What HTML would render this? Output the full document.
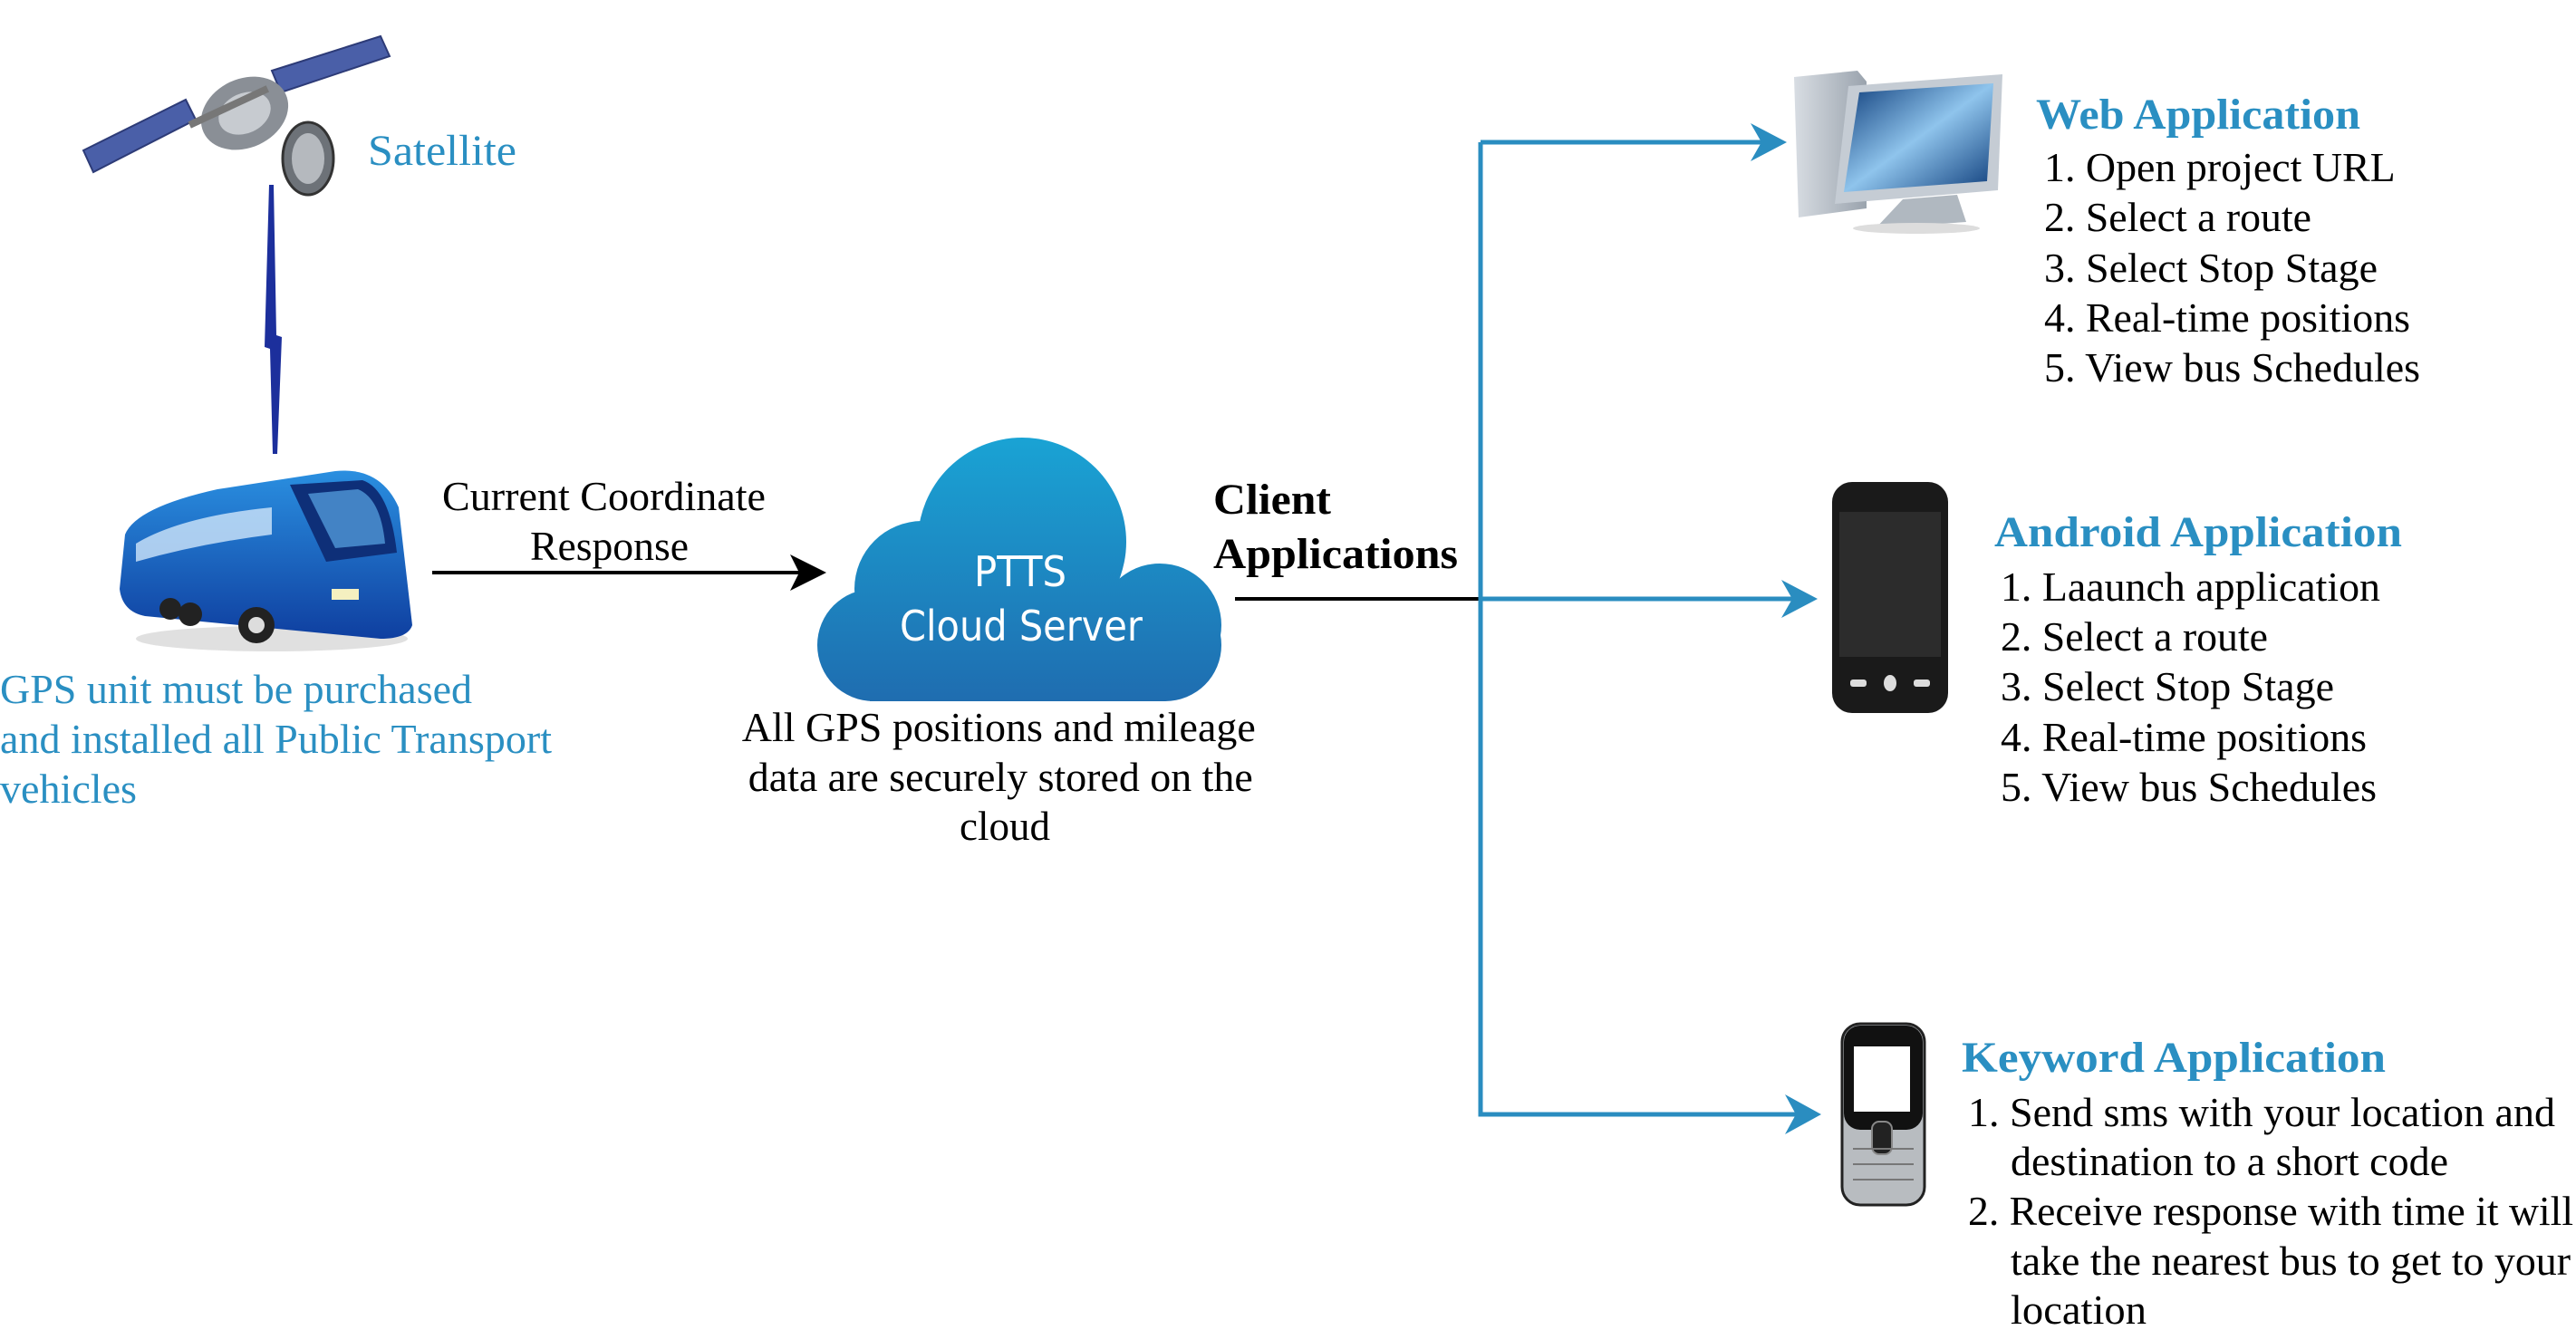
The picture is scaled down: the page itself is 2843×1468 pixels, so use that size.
<!DOCTYPE html>
<html><head><meta charset="utf-8"><style>
html,body{margin:0;padding:0;background:#fff;}
svg{display:block;}
.s{font-family:"Liberation Serif",serif;}
.b{font-family:"Liberation Serif",serif;font-weight:bold;}
</style></head><body>
<svg width="2843" height="1468" viewBox="0 0 2843 1468" xmlns="http://www.w3.org/2000/svg">
<defs>
<linearGradient id="cg" gradientUnits="userSpaceOnUse" x1="0" y1="483" x2="0" y2="774"><stop offset="0" stop-color="#1aa3d4"/><stop offset="1" stop-color="#1f6db0"/></linearGradient>
<linearGradient id="bus" x1="0" y1="0" x2="0" y2="1"><stop offset="0" stop-color="#2a8fe0"/><stop offset="1" stop-color="#0f3fa0"/></linearGradient>
<linearGradient id="scr" x1="0" y1="0" x2="1" y2="1"><stop offset="0" stop-color="#0d3c7a"/><stop offset="0.5" stop-color="#8fc4ec"/><stop offset="1" stop-color="#0d3c7a"/></linearGradient>
<linearGradient id="sil" x1="0" y1="0" x2="1" y2="0"><stop offset="0" stop-color="#d8dde3"/><stop offset="1" stop-color="#9aa3ad"/></linearGradient>
</defs>

<g>
<polygon points="92,166 205,110 216,132 103,190" fill="#4a5fa8" stroke="#2d3b77" stroke-width="2"/>
<polygon points="300,78 420,40 430,62 310,102" fill="#4a5fa8" stroke="#2d3b77" stroke-width="2"/>
<ellipse cx="270" cy="125" rx="50" ry="38" fill="#8a8f96" transform="rotate(-25 270 125)"/>
<ellipse cx="270" cy="125" rx="30" ry="22" fill="#c7cbd0" transform="rotate(-25 270 125)"/>
<ellipse cx="340" cy="175" rx="28" ry="40" fill="#6d7278" stroke="#333" stroke-width="3"/>
<ellipse cx="340" cy="175" rx="18" ry="28" fill="#b5b9be"/>
<rect x="205" y="115" width="95" height="8" fill="#777" transform="rotate(-25 250 119)"/>
</g>
<text class="s" x="406" y="182" font-size="48" fill="#2a8fc2" textLength="164" lengthAdjust="spacingAndGlyphs">Satellite</text>

<polygon points="297,204 302,204 305,370 311,372 306,501 301,501 298,385 292,383" fill="#1c2f9c"/>

<g>
<ellipse cx="300" cy="705" rx="150" ry="14" fill="#ccc" opacity="0.6"/>
<path d="M138,590 Q150,560 240,540 L370,520 Q420,515 440,560 L455,690 Q450,705 420,705 L160,680 Q135,675 132,650 Z" fill="url(#bus)"/>
<path d="M150,600 Q200,570 300,560 L300,590 Q220,600 150,620 Z" fill="#cfe6fa" opacity="0.8"/>
<path d="M320,535 L400,530 Q430,540 438,610 L360,620 Z" fill="#0e2f78"/>
<path d="M340,545 L395,540 Q420,550 425,600 L370,605 Z" fill="#5aa6e6" opacity="0.7"/>
<circle cx="188" cy="672" r="12" fill="#222"/><circle cx="210" cy="678" r="13" fill="#222"/>
<circle cx="283" cy="690" r="20" fill="#222"/><circle cx="283" cy="690" r="9" fill="#ddd"/>
<rect x="366" y="650" width="30" height="12" fill="#f5f0c0"/>
</g>
<text class="s" font-size="46" fill="#2a8fc2">
<tspan x="0" y="776" textLength="521" lengthAdjust="spacingAndGlyphs">GPS unit must be purchased</tspan>
<tspan x="0" y="831" textLength="609" lengthAdjust="spacingAndGlyphs">and installed all Public Transport</tspan>
<tspan x="0" y="886" textLength="151" lengthAdjust="spacingAndGlyphs">vehicles</tspan>
</text>

<text class="s" x="488" y="563" font-size="46" textLength="357" lengthAdjust="spacingAndGlyphs">Current Coordinate</text>
<text class="s" x="585" y="618" font-size="46" textLength="175" lengthAdjust="spacingAndGlyphs">Response</text>
<line x1="477" y1="632" x2="890" y2="632" stroke="#000" stroke-width="4"/>
<polygon points="912,632 872,612 882,632 872,652" fill="#000"/>

<g fill="url(#cg)">
<circle cx="1128" cy="598" r="115"/>
<circle cx="1018" cy="650" r="75"/>
<circle cx="1280" cy="690" r="68"/>
<rect x="902" y="650" width="446" height="124" rx="62"/>
<rect x="960" y="640" width="310" height="134"/>
</g>
<text x="1126" y="647" font-family="'DejaVu Sans','Liberation Sans',sans-serif" font-size="46" fill="#fff" text-anchor="middle" textLength="102" lengthAdjust="spacingAndGlyphs">PTTS</text>
<text x="1127" y="707" font-family="'DejaVu Sans','Liberation Sans',sans-serif" font-size="46" fill="#fff" text-anchor="middle" textLength="268" lengthAdjust="spacingAndGlyphs">Cloud Server</text>
<text class="s" font-size="46" text-anchor="middle">
<tspan x="1108" y="818" textLength="567" lengthAdjust="spacingAndGlyphs">All GPS positions and mileage</tspan>
<tspan x="1110" y="873" textLength="557" lengthAdjust="spacingAndGlyphs">data are securely stored on the</tspan>
<tspan x="1109" y="927" textLength="100" lengthAdjust="spacingAndGlyphs">cloud</tspan>
</text>

<text class="b" x="1339" y="567" font-size="48" textLength="130" lengthAdjust="spacingAndGlyphs">Client</text>
<text class="b" x="1339" y="627" font-size="48" textLength="270" lengthAdjust="spacingAndGlyphs">Applications</text>
<line x1="1363" y1="661" x2="1634" y2="661" stroke="#000" stroke-width="4"/>

<g stroke="#2a8dc0" stroke-width="5" fill="none">
<polyline points="1634,157 1634,1230 1990,1230"/>
<line x1="1634" y1="157" x2="1955" y2="157"/>
<line x1="1634" y1="661" x2="1985" y2="661"/>
</g>
<g fill="#2a8dc0">
<polygon points="1972,157 1932,136 1944,157 1932,178"/>
<polygon points="2006,661 1966,640 1978,661 1966,682"/>
<polygon points="2010,1230 1970,1208 1982,1230 1970,1252"/>
</g>

<g>
<polygon points="1980,85 2050,78 2060,90 2060,230 1985,240" fill="url(#sil)"/>
<polygon points="2040,95 2210,82 2205,210 2025,225" fill="#c5ccd4"/>
<polygon points="2052,102 2200,92 2193,200 2035,212" fill="url(#scr)"/>
<polygon points="2100,220 2160,215 2170,245 2070,252" fill="#b0b8c0"/>
<ellipse cx="2115" cy="252" rx="70" ry="6" fill="#ddd"/>
</g>
<text class="b" x="2247" y="142" font-size="48" fill="#2a8fc2" textLength="358" lengthAdjust="spacingAndGlyphs">Web Application</text>
<text class="s" font-size="46">
<tspan x="2256" y="200" textLength="386" lengthAdjust="spacingAndGlyphs">1. Open project URL</tspan>
<tspan x="2256" y="255" textLength="295" lengthAdjust="spacingAndGlyphs">2. Select a route</tspan>
<tspan x="2256" y="311" textLength="368" lengthAdjust="spacingAndGlyphs">3. Select Stop Stage</tspan>
<tspan x="2256" y="366" textLength="404" lengthAdjust="spacingAndGlyphs">4. Real-time positions</tspan>
<tspan x="2256" y="421" textLength="415" lengthAdjust="spacingAndGlyphs">5. View bus Schedules</tspan>
</text>

<g>
<rect x="2022" y="532" width="128" height="255" rx="22" fill="#1a1a1a"/>
<rect x="2030" y="565" width="112" height="160" fill="#2c2c2c"/>
<rect x="2042" y="750" width="18" height="8" rx="3" fill="#ddd"/>
<rect x="2112" y="750" width="18" height="8" rx="3" fill="#ddd"/>
<ellipse cx="2086" cy="754" rx="7" ry="9" fill="#ddd"/>
</g>
<text class="b" x="2201" y="603" font-size="48" fill="#2a8fc2" textLength="450" lengthAdjust="spacingAndGlyphs">Android  Application</text>
<text class="s" font-size="46">
<tspan x="2208" y="663" textLength="419" lengthAdjust="spacingAndGlyphs">1. Laaunch application</tspan>
<tspan x="2208" y="718" textLength="295" lengthAdjust="spacingAndGlyphs">2. Select a route</tspan>
<tspan x="2208" y="773" textLength="368" lengthAdjust="spacingAndGlyphs">3. Select Stop Stage</tspan>
<tspan x="2208" y="829" textLength="404" lengthAdjust="spacingAndGlyphs">4. Real-time positions</tspan>
<tspan x="2208" y="884" textLength="415" lengthAdjust="spacingAndGlyphs">5. View bus Schedules</tspan>
</text>

<g>
<rect x="2033" y="1130" width="91" height="200" rx="20" fill="#b8bcc0" stroke="#222" stroke-width="3"/>
<rect x="2035" y="1132" width="87" height="115" rx="18" fill="#111"/>
<rect x="2046" y="1155" width="62" height="72" fill="#fff"/>
<rect x="2066" y="1238" width="22" height="36" rx="8" fill="#222" stroke="#888" stroke-width="2"/>
<g stroke="#777" stroke-width="2" fill="none">
<line x1="2045" y1="1268" x2="2112" y2="1268"/><line x1="2045" y1="1285" x2="2112" y2="1285"/>
<line x1="2045" y1="1302" x2="2112" y2="1302"/>
</g>
</g>
<text class="b" x="2165" y="1183" font-size="48" fill="#2a8fc2" textLength="468" lengthAdjust="spacingAndGlyphs">Keyword  Application</text>
<text class="s" font-size="46">
<tspan x="2172" y="1243" textLength="648" lengthAdjust="spacingAndGlyphs">1. Send sms with your location and</tspan>
<tspan x="2219" y="1297" textLength="483" lengthAdjust="spacingAndGlyphs">destination to a short code</tspan>
<tspan x="2172" y="1352" textLength="668" lengthAdjust="spacingAndGlyphs">2. Receive response with time it will</tspan>
<tspan x="2219" y="1407" textLength="618" lengthAdjust="spacingAndGlyphs">take the nearest bus to get to your</tspan>
<tspan x="2219" y="1461" textLength="150" lengthAdjust="spacingAndGlyphs">location</tspan>
</text>
</svg>
</body></html>
